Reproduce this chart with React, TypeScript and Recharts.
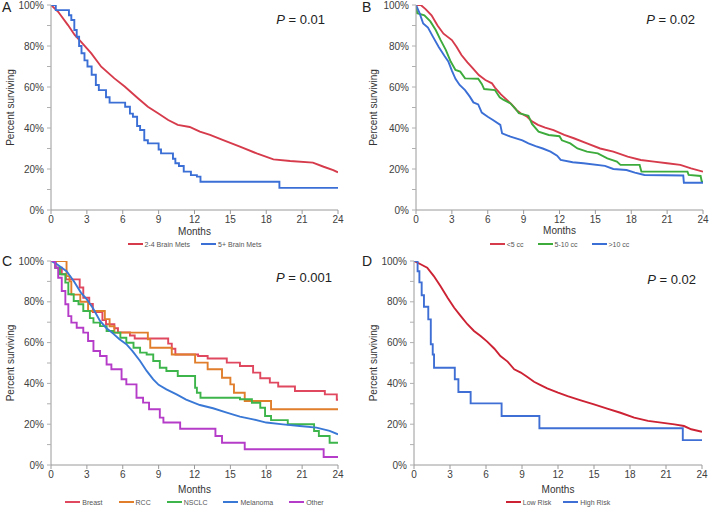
import React from 'react'
import { LineChart, Line, XAxis, YAxis, Legend } from 'recharts'

type Pt = [number, number]

const FONT = '"Liberation Sans", Arial, sans-serif'

// month ticks and percent ticks (minor every 10%, label every 20%)
const monthTicks = [0, 3, 6, 9, 12, 15, 18, 21, 24]
const pctTicks = [0, 10, 20, 30, 40, 50, 60, 70, 80, 90, 100]

// Panel A: number of brain mets
const twoToFourMets: Pt[] = [
  [0, 100], [0.6, 96.7], [1.42, 90.2], [1.98, 85.4], [2.5, 82.1], [3.37, 76.4], [4.2, 69.9],
  [5.3, 64.2], [6.16, 60.2], [7.27, 54.5], [8.1, 50.4], [8.95, 47.2], [9.8, 43.9], [10.6, 41.5],
  [11.6, 40.5], [12.0, 39.5], [12.45, 38.2], [13.3, 36.6], [14.4, 34.1], [15.8, 30.9], [17.2, 27.6],
  [18.6, 24.7], [20.0, 23.9], [21.9, 23.1], [22.8, 21.1], [23.6, 19.5], [24, 18.4],
]
const fivePlusMets: Pt[] = [
  [0, 100], [0.4, 97.5], [1.5, 95], [1.7, 92.7], [1.95, 87.8], [2.15, 84.5], [2.35, 80], [2.55, 76.5],
  [2.8, 73], [3.05, 70], [3.4, 66], [3.75, 61], [4.0, 58.5], [4.6, 55], [4.9, 52.4], [6.2, 50.4],
  [6.6, 47], [6.85, 45.5], [7.2, 41], [7.45, 39], [7.8, 34], [8.1, 32.5], [9.0, 29.5], [9.2, 27.6],
  [10.2, 25], [10.4, 22.8], [10.7, 21.5], [11.1, 18.7], [11.7, 17], [12.2, 16.3], [12.5, 13.8],
  [19.1, 10.8], [24, 10.8],
]

// Panel B: tumour volume
const under5cc: Pt[] = [
  [0, 100], [0.4, 100], [0.8, 98], [1.3, 95], [1.8, 90], [2.3, 86], [3.0, 82.9], [3.4, 79.5],
  [3.8, 75.6], [4.3, 72], [4.7, 69.5], [5.25, 65.8], [5.8, 63.4], [6.35, 61.8], [6.6, 59.7],
  [7.1, 56.4], [7.6, 53.7], [8.0, 51.5], [8.4, 48.8], [8.75, 47.2], [9.3, 45.5], [9.7, 43.2],
  [10.2, 41.5], [10.8, 40.2], [11.5, 39], [12.4, 36.6], [13.2, 35], [14.3, 32.5], [15.4, 30],
  [16.5, 28.5], [17.7, 26], [18.8, 24.4], [19.9, 23.6], [21, 22.8], [22.1, 22], [23, 20.3], [24, 18.7],
]
const fiveTo10cc: Pt[] = [
  [0, 100], [0.1, 96], [0.7, 95], [1.2, 92], [1.65, 87.8], [2.05, 83], [2.5, 78], [2.9, 72.4],
  [3.3, 68.3], [3.7, 67.5], [4.1, 64.2], [5.2, 64], [5.5, 61.5], [5.7, 59], [6.6, 58.5], [7.0, 55],
  [7.3, 53.8], [7.9, 52], [8.3, 49.5], [8.6, 47.2], [9.4, 46], [9.7, 42], [10.25, 38.2], [11.1, 36.6],
  [12.0, 36], [12.2, 34], [12.9, 32.5], [13.5, 30], [14.3, 28.5], [15.2, 27.6], [16.0, 25.2],
  [16.8, 23.6], [17.1, 22], [18.7, 22], [18.85, 18.7], [22.7, 18.7], [22.8, 17.1], [23.8, 16.6],
  [23.9, 13.8], [24, 13.8],
]
const over10cc: Pt[] = [
  [0, 100], [0.3, 96], [0.6, 91], [1.0, 89], [1.4, 84.7], [1.9, 79.5], [2.4, 75], [2.7, 72.5],
  [3.0, 68], [3.3, 64], [3.65, 61], [4.1, 58.5], [4.5, 55.3], [4.8, 52.5], [5.2, 51.5], [5.5, 47.5],
  [6.0, 45.5], [6.4, 44], [7.05, 41.5], [7.2, 37.4], [7.9, 35.8], [8.9, 34], [9.4, 32.5], [10.0, 31.2],
  [10.6, 30], [11.25, 28.5], [11.8, 26.5], [12.1, 24.4], [13.1, 23.3], [14.0, 22.8], [15.8, 21.5],
  [16.5, 20], [17.6, 19.5], [18.3, 18.2], [19.1, 17.1], [22.35, 16.8], [22.4, 13.3], [24, 13.3],
]

// Panel C: primary histology
const breast: Pt[] = [
  [0, 100], [0.4, 96.7], [0.9, 93.5], [1.25, 91], [2.4, 87], [2.7, 82], [3.2, 79], [3.5, 75],
  [4.3, 71], [4.6, 69], [5.3, 67], [5.6, 65], [6.6, 63.5], [7.0, 62], [9.8, 59.5], [10.1, 57],
  [10.4, 54.2], [12.3, 53.4], [13.1, 52.2], [14.7, 50.2], [15.8, 48.5], [16.9, 45.3], [17.5, 42.5],
  [18.3, 40.4], [19.0, 38.5], [20.4, 36.3], [22.9, 34.6], [23.9, 32], [24, 32],
]
const rcc: Pt[] = [
  [0, 100], [1.3, 92.6], [1.55, 90], [1.7, 83.5], [2.45, 80], [3.1, 75.5], [4.5, 71.5], [4.9, 68],
  [5.3, 64.9], [8.1, 61.6], [8.3, 57.5], [10.1, 54.2], [12.05, 50.2], [13.1, 46.9], [14.3, 42.8],
  [15.0, 39.5], [15.3, 35.4], [16.2, 31.4], [18.4, 27.3], [24, 27.3],
]
const nsclc: Pt[] = [
  [0, 100], [0.35, 96.7], [0.75, 93.5], [1.2, 89.4], [1.45, 83.7], [1.9, 80.4], [2.3, 78.8],
  [2.7, 75.5], [3.25, 72], [3.55, 69.8], [4.1, 68.1], [4.65, 65.7], [5.2, 64.9], [5.8, 62.4],
  [6.3, 59.9], [6.9, 57.5], [7.45, 55.1], [8.0, 54.2], [8.55, 51], [9.1, 47.7], [9.65, 46.1],
  [10.6, 43.6], [12.05, 37.9], [12.2, 35.4], [12.5, 33], [15.8, 32.2], [16.8, 30.5], [17.5, 28.1],
  [17.9, 24], [18.4, 22], [19.8, 20], [22.0, 16.7], [22.4, 14.2], [23.3, 10.9], [24, 10.9],
]
const melanoma: Pt[] = [
  [0, 100], [0.5, 98.4], [1.3, 95], [1.9, 90.2], [2.5, 84.5], [3.0, 81.2], [3.5, 77], [4.1, 70.6],
  [4.6, 67.3], [5.2, 64.4], [5.7, 61.8], [6.3, 59.2], [6.8, 55.9], [7.45, 51], [8.0, 46.1],
  [8.55, 42], [9.0, 39.3], [9.65, 37.1], [10.5, 34.6], [11.3, 32.1], [12.45, 29.4], [13.55, 27.8],
  [14.7, 25.7], [15.8, 23.7], [16.9, 22.4], [18.0, 20.8], [19.4, 19.9], [20.8, 19.1], [22.2, 18.3],
  [23.3, 16.7], [24, 15],
]
const other: Pt[] = [
  [0, 100], [0.35, 96.7], [0.6, 91.8], [0.9, 85.3], [1.2, 78.8], [1.45, 73], [1.7, 69.8],
  [2.15, 67.3], [2.7, 64.9], [3.1, 60.8], [3.55, 55.9], [4.1, 53.4], [4.65, 49.3], [5.05, 46.9],
  [5.9, 42], [6.3, 39.5], [7.15, 33], [7.7, 30.6], [8.2, 27.3], [9.1, 23.2], [9.4, 20.8],
  [10.8, 17.8], [13.75, 14.2], [14.3, 10.9], [16.2, 7.7], [22.8, 3.9], [24, 3.9],
]

// Panel D: risk group
const lowRisk: Pt[] = [
  [0, 100], [0.55, 98.4], [1.1, 96.7], [1.65, 92.6], [2.2, 87.7], [2.8, 82], [3.35, 77.1],
  [3.9, 73], [4.45, 69], [5.0, 65.7], [5.55, 63.2], [6.1, 60.5], [6.7, 57], [7.2, 53.4], [7.8, 50.7],
  [8.35, 46.9], [8.9, 45.3], [9.45, 43.1], [10.0, 40.8], [10.55, 39.2], [11.1, 37.6], [12.0, 35.5],
  [12.8, 33.8], [13.9, 31.7], [15.0, 29.7], [16.1, 27.6], [17.2, 25.6], [18.35, 23.2], [19.5, 21.6],
  [20.6, 20.8], [21.7, 19.9], [22.5, 19.1], [23.1, 17.5], [24, 16.3],
]
const highRisk: Pt[] = [
  [0, 100], [0.3, 95], [0.45, 89.5], [0.64, 83.2], [0.83, 77.6], [1.19, 71.4], [1.4, 59.2],
  [1.56, 54.2], [1.67, 47.7], [3.4, 42], [3.7, 35.8], [4.72, 30.2], [7.3, 24], [10.45, 18],
  [22.4, 12.2], [24, 12.2],
]

interface Series {
  name: string
  color: string
  points: Pt[]
  step?: boolean
}

interface PanelCfg {
  letter: string
  pText: string
  left: number
  top: number
  width: number
  yAxisWidth: number
  mTop: number
  mRight: number
  mBottom: number
  xAxisHeight: number
  letterX: number
  letterY: number
  pX: number
  pY: number
  yLabelOffset: number
  monthsOffset: number
  legendGap: number
  series: Series[]
}

const panels: PanelCfg[] = [
  {
    letter: 'A', pText: '0.01', left: 0, top: 0, width: 354, yAxisWidth: 51,
    mTop: 5, mRight: 16, mBottom: 5, xAxisHeight: 29,
    letterX: 2, letterY: 12, pX: 325, pY: 24, yLabelOffset: 10, monthsOffset: 4, legendGap: 11,
    series: [
      { name: '2-4 Brain Mets', color: '#d63b4c', points: twoToFourMets },
      { name: '5+ Brain Mets', color: '#3b6fd6', points: fivePlusMets, step: true },
    ],
  },
  {
    letter: 'B', pText: '0.02', left: 354, top: 0, width: 355, yAxisWidth: 62,
    mTop: 5, mRight: 6, mBottom: 5, xAxisHeight: 29,
    letterX: 8, letterY: 12, pX: 341, pY: 24, yLabelOffset: 19, monthsOffset: 5, legendGap: 14,
    series: [
      { name: '<5 cc', color: '#d63b4c', points: under5cc },
      { name: '5-10 cc', color: '#3cab3c', points: fiveTo10cc },
      { name: '>10 cc', color: '#3b6fd6', points: over10cc },
    ],
  },
  {
    letter: 'C', pText: '0.001', left: 0, top: 254, width: 354, yAxisWidth: 51,
    mTop: 7, mRight: 16, mBottom: 1, xAxisHeight: 32,
    letterX: 2, letterY: 12, pX: 332, pY: 28, yLabelOffset: 10, monthsOffset: 4, legendGap: 16,
    series: [
      { name: 'Breast', color: '#e0485f', points: breast, step: true },
      { name: 'RCC', color: '#e07e2c', points: rcc, step: true },
      { name: 'NSCLC', color: '#3db54a', points: nsclc, step: true },
      { name: 'Melanoma', color: '#3a78d6', points: melanoma },
      { name: 'Other', color: '#b53cc8', points: other, step: true },
    ],
  },
  {
    letter: 'D', pText: '0.02', left: 354, top: 254, width: 355, yAxisWidth: 60,
    mTop: 7, mRight: 7, mBottom: 1, xAxisHeight: 32,
    letterX: 8, letterY: 12, pX: 342, pY: 30, yLabelOffset: 19, monthsOffset: 4, legendGap: 12,
    series: [
      { name: 'Low Risk', color: '#cc2233', points: lowRisk },
      { name: 'High Risk', color: '#3f6fd4', points: highRisk, step: true },
    ],
  },
]

const toRows = (pts: Pt[]) => pts.map(([t, s]) => ({ t, s }))

function LegendRow({ series, gap }: { series: Series[]; gap: number }) {
  return (
    <div style={{ display: 'flex', justifyContent: 'center', alignItems: 'center', height: 10, fontSize: 7, fontFamily: FONT, color: '#555' }}>
      {series.map((s, i) => (
        <span key={s.name} style={{ display: 'flex', alignItems: 'center', marginLeft: i === 0 ? 0 : gap }}>
          <span style={{ display: 'inline-block', width: 15, height: 2, background: s.color, marginRight: 2 }} />
          <span>{s.name}</span>
        </span>
      ))}
    </div>
  )
}

function SurvivalPanel({ cfg }: { cfg: PanelCfg }) {
  const plotWidth = cfg.width - cfg.yAxisWidth - cfg.mRight
  return (
    <div style={{ position: 'absolute', left: cfg.left, top: cfg.top }}>
      <LineChart
        width={cfg.width}
        height={254}
        margin={{ top: cfg.mTop, right: cfg.mRight, left: 0, bottom: cfg.mBottom }}
        style={{ fontFamily: FONT }}
      >
        <XAxis
          xAxisId="main"
          type="number"
          dataKey="t"
          domain={[0, 24]}
          ticks={monthTicks}
          allowDataOverflow
          height={cfg.xAxisHeight}
          tickSize={4}
          tickMargin={2}
          tick={{ fontSize: 10, fill: '#404040' }}
          axisLine={{ stroke: '#9a9a9a' }}
          tickLine={{ stroke: '#9a9a9a' }}
          label={{ value: 'Months', position: 'insideBottom', offset: cfg.monthsOffset, style: { fontSize: 10, fill: '#333' } }}
        />
        <XAxis
          xAxisId="frame"
          orientation="top"
          type="number"
          domain={[0, 24]}
          height={0}
          tick={false}
          tickLine={false}
          axisLine={{ stroke: '#d0d0d0' }}
        />
        <YAxis
          yAxisId="main"
          type="number"
          domain={[0, 100]}
          ticks={pctTicks}
          allowDataOverflow
          width={cfg.yAxisWidth}
          tickSize={4}
          tickMargin={3}
          tickFormatter={(v: number) => (v % 20 === 0 ? `${v}%` : '')}
          tick={{ fontSize: 10, fill: '#404040' }}
          axisLine={{ stroke: '#9a9a9a' }}
          tickLine={{ stroke: '#b0b0b0' }}
          label={{
            value: 'Percent surviving',
            angle: -90,
            position: 'insideLeft',
            offset: cfg.yLabelOffset,
            style: { textAnchor: 'middle', fontSize: 10, fill: '#333' },
          }}
        />
        <YAxis
          yAxisId="frame"
          orientation="right"
          type="number"
          domain={[0, 100]}
          width={0}
          tick={false}
          tickLine={false}
          axisLine={{ stroke: '#d0d0d0' }}
        />
        <Legend
          verticalAlign="bottom"
          height={10}
          wrapperStyle={{ left: cfg.yAxisWidth, width: plotWidth }}
          content={() => <LegendRow series={cfg.series} gap={cfg.legendGap} />}
        />
        {cfg.series.map((s) => (
          <Line
            key={s.name}
            xAxisId="main"
            yAxisId="main"
            data={toRows(s.points)}
            dataKey="s"
            name={s.name}
            type={s.step ? 'stepAfter' : 'linear'}
            stroke={s.color}
            strokeWidth={1.9}
            dot={false}
            activeDot={false}
            isAnimationActive={false}
          />
        ))}
        <text x={cfg.letterX} y={cfg.letterY} fontSize={14} fill="#222" fontFamily={FONT}>
          {cfg.letter}
        </text>
        <text x={cfg.pX} y={cfg.pY} fontSize={13} fill="#222" textAnchor="end" fontFamily={FONT}>
          <tspan fontStyle="italic">P</tspan>
          <tspan> = {cfg.pText}</tspan>
        </text>
      </LineChart>
    </div>
  )
}

export default function App() {
  return (
    <div style={{ position: 'absolute', left: 0, top: 0, width: 709, height: 508, background: '#fff' }}>
      {panels.map((p) => (
        <SurvivalPanel key={p.letter} cfg={p} />
      ))}
    </div>
  )
}
